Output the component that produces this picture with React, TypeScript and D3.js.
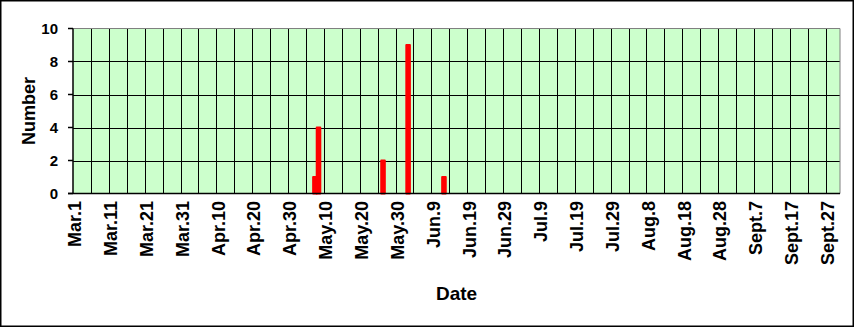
import React from 'react';
import * as d3 from 'd3';

const months = ["Mar", "Apr", "May", "Jun", "Jul", "Aug", "Sept"];
const monthDays = [31, 30, 31, 30, 31, 31, 30];
const xTickLabels = [
  "Mar.1", "Mar.11", "Mar.21", "Mar.31", "Apr.10", "Apr.20", "Apr.30",
  "May.10", "May.20", "May.30", "Jun.9", "Jun.19", "Jun.29", "Jul.9",
  "Jul.19", "Jul.29", "Aug.8", "Aug.18", "Aug.28", "Sept.7", "Sept.17", "Sept.27",
];
const yTicks = [0, 2, 4, 6, 8, 10];
const barDates = ["May.7", "May.8", "May.26", "Jun.2", "Jun.12"];
const barValues = [1, 4, 2, 9, 1];

const categories: string[] = [];
months.forEach((m, i) => {
  for (let d = 1; d <= monthDays[i]; d++) categories.push(`${m}.${d}`);
});

const W = 855;
const H = 328;
const L = 73, R = 840, T = 28.5, B = 193.5;
const FONT = "'Liberation Sans', Arial, sans-serif";

export default function App() {
  const x = d3.scaleBand<string>().domain(categories).range([L, R]).padding(0);
  const y = d3.scaleLinear().domain([0, 10]).range([B, T]);
  const bw = x.bandwidth();

  const vGrid = categories
    .map((c, i) => ({ c, i }))
    .filter((d) => d.i > 0 && d.i % 5 === 0)
    .map((d) => Math.round(x(d.c)!) + 0.5);

  return (
    <svg
      width={W}
      height={H}
      style={{ position: 'absolute', left: 0, top: 0, background: '#fff' }}
      fontFamily={FONT}
    >
      <rect x={0.75} y={0.75} width={852.5} height={325.5} fill="#fff" stroke="#000" strokeWidth={1.5} />
      <rect x={L} y={T} width={R - L} height={B - T} fill="#CCFFCC" />
      {vGrid.map((gx, i) => (
        <line key={'v' + i} x1={gx} x2={gx} y1={T} y2={B} stroke="#000" strokeWidth={1} />
      ))}
      {yTicks.filter((t) => t > 0 && t < 10).map((t) => (
        <line key={'h' + t} x1={L} x2={R} y1={Math.round(y(t)) + 0.5} y2={Math.round(y(t)) + 0.5} stroke="#000" strokeWidth={1} />
      ))}
      {/* plot border top/right */}
      <line x1={L} x2={R} y1={T} y2={T} stroke="#808080" strokeWidth={1} />
      <line x1={R} x2={R} y1={T} y2={B} stroke="#808080" strokeWidth={1} />
      {/* bars */}
      {barDates.map((d, i) => (
        <rect
          key={'b' + i}
          x={x(d)!}
          width={bw}
          y={y(barValues[i])}
          height={B - y(barValues[i])}
          fill="#FF0000"
          stroke="#FF0000"
          strokeWidth={2}
          strokeLinejoin="round"
        />
      ))}
      {/* axes */}
      <line x1={L} x2={L} y1={T} y2={B} stroke="#000" strokeWidth={1.5} />
      <line x1={L - 5} x2={R} y1={B} y2={B} stroke="#000" strokeWidth={1.5} />
      {yTicks.map((t) => (
        <g key={'yt' + t}>
          <line x1={L - 5} x2={L} y1={y(t)} y2={y(t)} stroke="#000" strokeWidth={1.5} />
          <text x={L - 15} y={y(t)} dy="0.36em" textAnchor="end" fontSize={15} fontWeight="bold">
            {t}
          </text>
        </g>
      ))}
      {xTickLabels.map((lab) => {
        const cx = x(lab)! + bw / 2;
        return (
          <text
            key={'xt' + lab}
            transform={`translate(${cx},201) rotate(-90)`}
            dy="0.36em"
            textAnchor="end"
            fontSize={18}
            fontWeight="bold"
          >
            {lab}
          </text>
        );
      })}
      <text
        transform={`translate(29,${(T + B) / 2}) rotate(-90)`}
        dy="0.36em"
        textAnchor="middle"
        fontSize={18}
        fontWeight="bold"
      >
        Number
      </text>
      <text x={(L + R) / 2} y={300} textAnchor="middle" fontSize={19} fontWeight="bold">
        Date
      </text>
    </svg>
  );
}
